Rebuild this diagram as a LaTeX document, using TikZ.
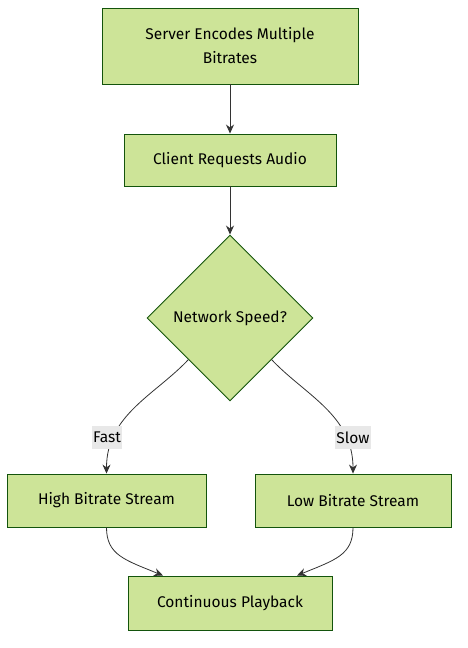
\documentclass[tikz,border=0pt]{standalone}
\usepackage{fontspec}
\setmainfont{Fira Sans}
\usetikzlibrary{shapes.geometric,arrows.meta}
\definecolor{boxfill}{HTML}{CDE498}
\definecolor{boxline}{HTML}{13540C}
\definecolor{edgecol}{HTML}{333333}
\definecolor{lblbg}{HTML}{E8E8E8}
\tikzset{
  stepbox/.style={draw=boxline, fill=boxfill, line width=0.9pt, rectangle, inner sep=0pt, align=center, font=\fontsize{15.5}{24}\selectfont},
  decision/.style={draw=boxline, fill=boxfill, line width=0.9pt, diamond, aspect=1, inner sep=0pt, minimum width=166pt, minimum height=166pt, font=\fontsize{15.5}{24}\selectfont},
  arr/.style={draw=edgecol, line width=0.8pt, -{Stealth[length=9pt,width=8pt]}},
  lbl/.style={fill=lblbg, inner xsep=1.5pt, minimum height=23pt, font=\fontsize{15.5}{16}\selectfont}
}
\begin{document}
\begin{tikzpicture}[x=1pt,y=-1pt]
\useasboundingbox (0,0) rectangle (467,648);
\node[stepbox, minimum width=256pt, minimum height=76pt] (s) at (230,46) {Server Encodes Multiple\\Bitrates};
\node[stepbox, minimum width=212pt, minimum height=52pt] (c) at (230,160) {Client Requests Audio};
\node[decision] (d) at (230,318) {Network Speed?};
\node[stepbox, minimum width=199pt, minimum height=53pt] (h) at (106.5,500.5) {High Bitrate Stream};
\node[stepbox, minimum width=196pt, minimum height=53pt] (l) at (353,500.5) {Low Bitrate Stream};
\node[stepbox, minimum width=204pt, minimum height=54pt] (p) at (230,603) {Continuous Playback};
\coordinate (pin1) at ([xshift=-67pt]p.north);
\coordinate (pin2) at ([xshift=67pt]p.north);
\draw[arr] (s) -- (c);
\draw[arr] (c) -- (d);
\draw[arr] (d.south west) .. controls (155,395) and (106.5,415) .. (h.north);
\draw[arr] (d.south east) .. controls (305,395) and (353,415) .. (l.north);
\draw[arr] (h.south) .. controls (106.5,555) and (125,560) .. (pin1);
\draw[arr] (l.south) .. controls (353,555) and (335,560) .. (pin2);
\node[lbl] (fast) at (107,437.5) {Fast};
\node[lbl] (slow) at (353,437.5) {Slow};
\end{tikzpicture}
\end{document}
